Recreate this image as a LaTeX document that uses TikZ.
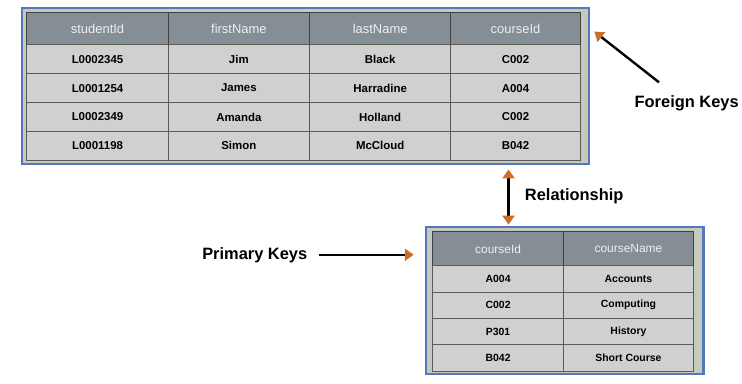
\documentclass[tikz,border=0pt]{standalone}
\usepackage{fontspec}
\setmainfont{Liberation Sans}
\usetikzlibrary{positioning,arrows.meta}

\definecolor{headgray}{HTML}{858E94}
\definecolor{cellgray}{HTML}{D0D0CE}
\definecolor{framebg}{HTML}{C5CABD}
\definecolor{frameblue}{HTML}{5577BB}
\definecolor{tipbrown}{HTML}{C8702A}

\begin{document}
\begin{tikzpicture}[
    x=1pt, y=-1pt,
    node distance=0pt and 0pt, % cells sit edge to edge
    frame/.style={draw=frameblue, line width=2.5pt, fill=framebg, inner sep=0pt},
    head/.style={draw=black!75, line width=1pt, outer sep=0pt, fill=headgray, text=white!88!gray, inner sep=0pt,
      minimum width=142pt, minimum height=32pt, font=\fontsize{13}{15}\selectfont},
    cell/.style={draw=black!65, line width=1pt, outer sep=0pt, fill=cellgray, inner sep=0pt,
      minimum width=142pt, minimum height=29pt, font=\bfseries\fontsize{11.5}{14}\selectfont},
    keylabel/.style={font=\bfseries\fontsize{16.5}{19}\selectfont},
    keytip/.tip={Triangle[color=tipbrown, length=9pt, width=12pt]},
    keyarrow/.style={draw, line width=2.4pt, -keytip}
  ]

  \fill[white] (0,0) rectangle (742,385);

  % Student table
  \node[frame, minimum width=570pt, minimum height=157pt] (t1) at (307,86.5) {};
  \node[head] (sid) at (98,29) {studentId};
  \node[head, right=of sid] (fname) {firstName};
  \node[head, right=of fname] (lname) {lastName};
  \node[head, right=of lname, minimum width=130pt] (cid) {courseId};

  \node[cell, below=of sid] (sid1) {L0002345};
  \node[cell, below=of sid1] (sid2) {L0001254};
  \node[cell, below=of sid2] (sid3) {L0002349};
  \node[cell, below=of sid3] (sid4) {L0001198};
  \node[cell, below=of fname] (fname1) {Jim};
  \node[cell, below=of fname1] (fname2) {James};
  \node[cell, below=of fname2] (fname3) {Amanda};
  \node[cell, below=of fname3] (fname4) {Simon};
  \node[cell, below=of lname] (lname1) {Black};
  \node[cell, below=of lname1] (lname2) {Harradine};
  \node[cell, below=of lname2] (lname3) {Holland};
  \node[cell, below=of lname3] (lname4) {McCloud};
  \node[cell, below=of cid, minimum width=130pt] (cid1) {C002};
  \node[cell, below=of cid1, minimum width=130pt] (cid2) {A004};
  \node[cell, below=of cid2, minimum width=130pt] (cid3) {C002};
  \node[cell, below=of cid3, minimum width=130pt] (cid4) {B042};

  % Course table
  \node[frame, minimum width=279pt, minimum height=148pt] (t2) at (567.5,302) {};
  \begin{scope}[
      head/.append style={minimum width=131pt, minimum height=34pt, font=\fontsize{12}{14}\selectfont},
      cell/.append style={minimum width=131pt, minimum height=26.5pt, font=\bfseries\fontsize{10.5}{12}\selectfont}
    ]
    \node[head] (ccid) at (500.5,250) {courseId};
    \node[head, right=of ccid] (cname) {courseName};
    \node[cell, below=of ccid] (ccid1) {A004};
    \node[cell, below=of ccid1] (ccid2) {C002};
    \node[cell, below=of ccid2] (ccid3) {P301};
    \node[cell, below=of ccid3] (ccid4) {B042};
    \node[cell, below=of cname] (cname1) {Accounts};
    \node[cell, below=of cname1] (cname2) {Computing};
    \node[cell, below=of cname2] (cname3) {History};
    \node[cell, below=of cname3] (cname4) {Short Course};
  \end{scope}

  % Labels
  \node[keylabel] (fk) at (690,104) {Foreign Keys};
  \node[keylabel] (rel) at (577,197) {Relationship};
  \node[keylabel] (pk) at (256,256) {Primary Keys};
  \coordinate (relx) at (511,0);

  % Arrows
  \draw[keyarrow] ([shift={(28pt,10pt)}]fk.north west) -- ([shift={(4pt,-25pt)}]t1.north east);
  \draw[keyarrow, keytip-keytip, shorten <=4pt, shorten >=1pt] (t1.south -| relx) -- (t2.north -| relx);
  \draw[keyarrow, shorten <=8pt, shorten >=11pt] (pk.east) -- (pk.east -| t2.west);

\end{tikzpicture}
\end{document}
